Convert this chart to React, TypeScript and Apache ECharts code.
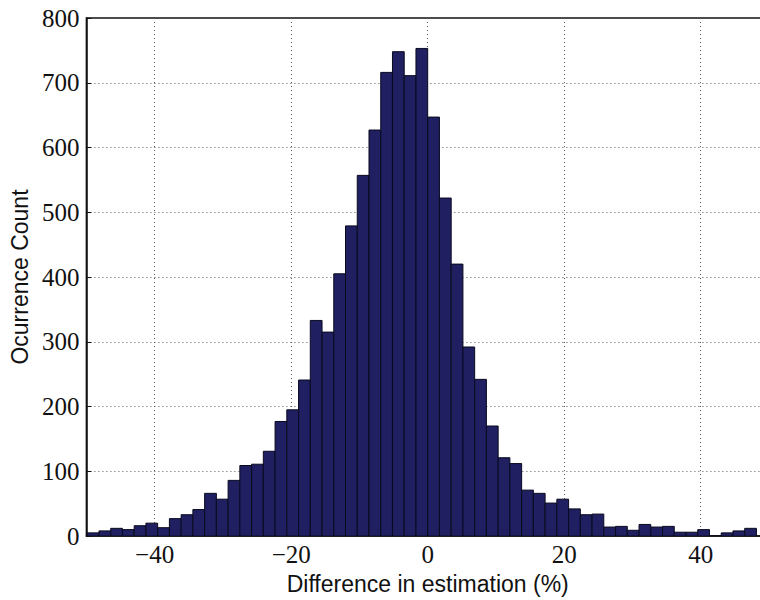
import React, { useEffect, useRef } from "react";
import * as echarts from "echarts";

// Histogram bins: first bin left edge and bin width (in %)
const binStart = -49.88;
const binWidth = 1.72;

// Occurrence counts per bin (left to right)
const counts = [
  5, 8, 12, 10, 16, 20, 13, 27, 33, 41, 66, 57, 86, 109, 111,
  131, 177, 195, 241, 333, 315, 405, 479, 557, 627, 716, 748, 711, 753,
  647, 522, 420, 292, 242, 170, 121, 112, 71, 66, 51, 57, 42, 33, 34,
  14, 15, 9, 18, 14, 15, 6, 6, 10, 0, 5, 8, 12,
];

const xTickValues = [-40, -20, 0, 20, 40];
const yTickValues = [0, 100, 200, 300, 400, 500, 600, 700, 800];

const xAxisTitle = "Difference in estimation (%)";
const yAxisTitle = "Ocurrence Count";

export default function App() {
  const ref = useRef<HTMLDivElement>(null);

  useEffect(() => {
    if (!ref.current) return;
    const chart = echarts.init(ref.current, null, { renderer: "svg" });

    const data = counts.map((c, i) => [
      binStart + i * binWidth,
      binStart + (i + 1) * binWidth,
      c,
    ]);

    const fmt = (v: number) => (v < 0 ? "\u2212" + Math.abs(v) : String(v));

    chart.setOption({
      animation: false,
      backgroundColor: "#ffffff",
      grid: {
        left: 86,
        right: 0,
        top: 18,
        bottom: 63,
        show: true,
        borderColor: "#111",
        borderWidth: 1.5,
        backgroundColor: "transparent",
      },
      xAxis: {
        type: "value",
        min: -50,
        max: 50,
        name: xAxisTitle,
        nameLocation: "middle",
        nameGap: 28,
        nameTextStyle: {
          fontFamily: "Liberation Sans",
          fontSize: 23,
          color: "#111",
        },
        axisLine: { show: true, onZero: false, lineStyle: { color: "#111", width: 1.5 } },
        axisTick: {
          show: true,
          inside: true,
          length: 5,
          customValues: xTickValues,
          lineStyle: { color: "#111" },
        },
        axisLabel: {
          customValues: xTickValues,
          formatter: fmt,
          fontFamily: "Liberation Serif",
          fontSize: 25,
          color: "#111",
          margin: 6,
        },
        splitLine: {
          show: true,
          lineStyle: { color: "#555", width: 1, type: [1, 3] },
        },
      },
      yAxis: {
        type: "value",
        min: 0,
        max: 800,
        interval: 100,
        name: yAxisTitle,
        nameLocation: "middle",
        nameGap: 50,
        nameTextStyle: {
          fontFamily: "Liberation Sans",
          fontSize: 23,
          color: "#111",
        },
        axisLine: { show: true, onZero: false, lineStyle: { color: "#111", width: 1.5 } },
        axisTick: {
          show: true,
          inside: true,
          length: 5,
          lineStyle: { color: "#111" },
        },
        axisLabel: {
          fontFamily: "Liberation Serif",
          fontSize: 25,
          color: "#111",
          margin: 7,
          formatter: (v: number) => (yTickValues.includes(v) ? String(v) : ""),
        },
        splitLine: {
          show: true,
          lineStyle: { color: "#555", width: 1, type: [1, 3] },
        },
      },
      series: [
        {
          type: "custom",
          clip: true,
          encode: { x: [0, 1], y: 2 },
          data,
          renderItem: (params: any, api: any) => {
            const x0 = api.value(0);
            const x1 = api.value(1);
            const c = api.value(2);
            const p0 = api.coord([x0, c]);
            const p1 = api.coord([x1, 0]);
            return {
              type: "rect",
              shape: {
                x: p0[0],
                y: p0[1],
                width: p1[0] - p0[0],
                height: p1[1] - p0[1],
              },
              style: {
                fill: "#1f1f62",
                stroke: "#0a0a1e",
                lineWidth: 1,
              },
            };
          },
        },
      ],
    });

    return () => chart.dispose();
  }, []);

  return (
    <div
      style={{
        position: "absolute",
        left: 0,
        top: 0,
        width: 760,
        height: 600,
        overflow: "hidden",
      }}
    >
      <div ref={ref} style={{ width: 769, height: 600 }} />
    </div>
  );
}
